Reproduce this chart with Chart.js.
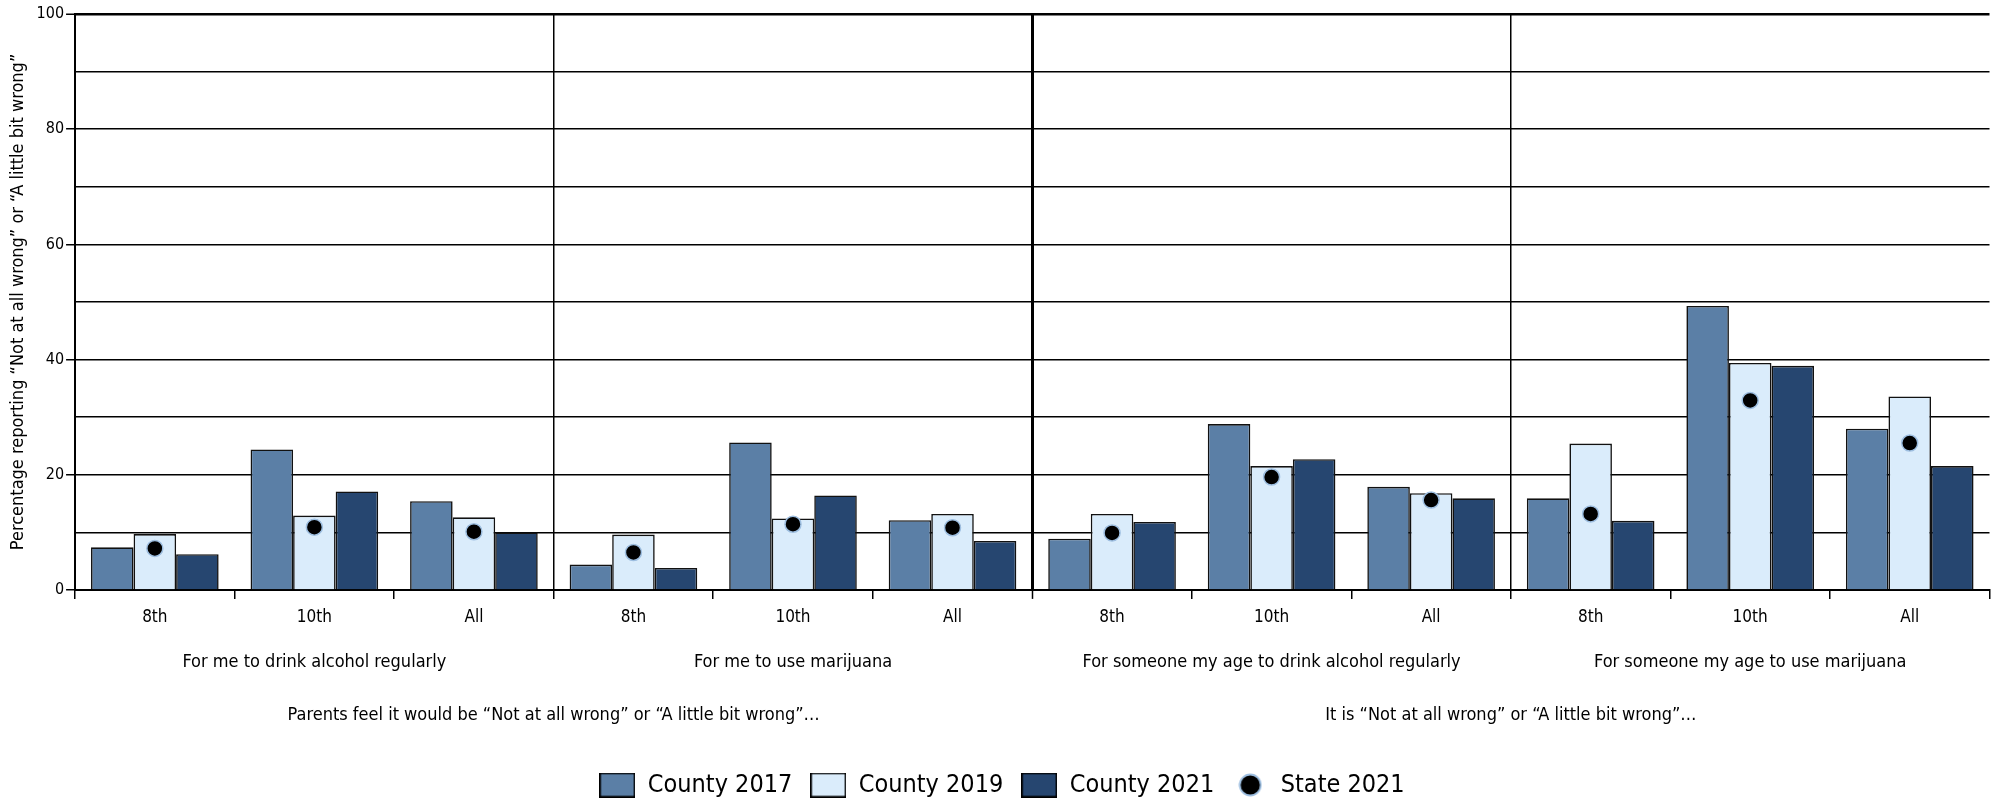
<!DOCTYPE html>
<html><head><meta charset="utf-8">
<script src="https://cdn.jsdelivr.net/npm/chart.js@4.4.1/dist/chart.umd.min.js"></script>
<style>html,body{margin:0;padding:0;background:#fff;}#wrap{width:1999px;height:804px;position:relative;}</style>
</head><body><div id="wrap"><canvas id="c"></canvas></div>
<script>
const gradeLabels = ['8th','10th','All','8th','10th','All','8th','10th','All','8th','10th','All'];
const topicLabels = ['For me to drink alcohol regularly','For me to use marijuana','For someone my age to drink alcohol regularly','For someone my age to use marijuana'];
const groupLabels = ['Parents feel it would be \u201CNot at all wrong\u201D or \u201CA little bit wrong\u201D\u2026','It is \u201CNot at all wrong\u201D or \u201CA little bit wrong\u201D\u2026'];
const seriesNames = ['County 2017','County 2019','County 2021','State 2021'];
const county2017 = [7.4,24.4,15.4, 4.4,25.6,12.1, 8.9,28.8,17.9, 15.9,49.3,28.0];
const county2019 = [9.7,12.9,12.6, 9.6,12.4,13.2, 13.2,21.5,16.8, 25.4,39.4,33.6];
const county2021 = [6.2,17.1,10.0, 3.8,16.4,8.5, 11.8,22.7,15.9, 12.0,38.9,21.5];
const state2021  = [7.2,10.9,10.1, 6.5,11.4,10.8, 9.9,19.6,15.6, 13.2,32.9,25.5];
const yTitle = 'Percentage reporting \u201CNot at all wrong\u201D or \u201CA little bit wrong\u201D';

const C17='#5B7FA6', C19='#DAECFB', C21='#264670', DOTRING='#9DBEE0';
Chart.defaults.font.family = "'Liberation Sans Narrow','DejaVu Sans Condensed','Roboto Condensed','Liberation Sans',sans-serif";
Chart.defaults.color = '#000';

function boxImg(fill){
  const c=document.createElement('canvas'); c.width=36; c.height=25;
  const g=c.getContext('2d'); g.fillStyle=fill; g.fillRect(1,1,34,23);
  g.strokeStyle='#000'; g.lineWidth=1.6; g.strokeRect(0.8,0.8,34.4,23.4); return c;
}
function dotImg(){
  const c=document.createElement('canvas'); c.width=24; c.height=24;
  const g=c.getContext('2d'); g.beginPath(); g.arc(12,12,10.5,0,Math.PI*2);
  g.fillStyle='#000'; g.fill(); g.lineWidth=1.8; g.strokeStyle=DOTRING; g.stroke(); return c;
}
const legendImgs=[boxImg(C17),boxImg(C19),boxImg(C21),dotImg()];

new Chart(document.getElementById('c'), {
  type:'bar',
  data:{
    labels: gradeLabels,
    datasets:[
      {label:seriesNames[0], data:county2017, backgroundColor:C17, borderColor:'#111', borderWidth:1.6, order:1, categoryPercentage:0.8, barPercentage:1.0},
      {label:seriesNames[1], data:county2019, backgroundColor:C19, borderColor:'#111', borderWidth:1.6, order:1, categoryPercentage:0.8, barPercentage:1.0},
      {label:seriesNames[2], data:county2021, backgroundColor:C21, borderColor:'#111', borderWidth:1.6, order:1, categoryPercentage:0.8, barPercentage:1.0},
      {label:seriesNames[3], data:state2021, type:'line', showLine:false, pointRadius:8, pointHoverRadius:8, pointBackgroundColor:'#000', pointBorderColor:DOTRING, pointBorderWidth:1.5, order:0}
    ]
  },
  options:{
    responsive:true, maintainAspectRatio:false, animation:false,
    layout:{padding:{top:14,right:3,bottom:-3.5,left:8}},
    plugins:{
      tooltip:{enabled:false},
      legend:{
        position:'bottom', weight:1000,
        title:{display:true, text:' ', font:{size:10}, padding:0},
        labels:{
          usePointStyle:true, pointStyleWidth:36, boxHeight:25, padding:18,
          font:{size:25},
          sort:(a,b)=>a.datasetIndex-b.datasetIndex,
          generateLabels:(chart)=>{
            const items=Chart.defaults.plugins.legend.labels.generateLabels(chart);
            items.forEach(it=>{it.pointStyle=legendImgs[it.datasetIndex];});
            return items;
          }
        }
      }
    },
    scales:{
      x:{
        type:'category', offset:true, weight:1,
        grid:{offset:true, drawTicks:true, tickLength:9, tickColor:'#000', tickWidth:1.5,
          color:(ctx)=> (ctx.index%3===0)?'#000':'rgba(0,0,0,0)',
          lineWidth:(ctx)=> ctx.index===6?3:1.5},
        border:{display:true, color:'#000', width:2},
        ticks:{font:{size:17}, padding:8, maxRotation:0, autoSkip:false}
      },
      x2:{
        type:'category', labels: topicLabels, position:'bottom', offset:true, weight:2,
        grid:{display:false, drawTicks:false}, border:{display:false},
        ticks:{font:{size:18}, padding:16, maxRotation:0, autoSkip:false}
      },
      x3:{
        type:'category', labels: groupLabels, position:'bottom', offset:true, weight:3,
        grid:{display:false, drawTicks:false}, border:{display:false},
        ticks:{font:{size:18}, padding:16, maxRotation:0, autoSkip:false}
      },
      y:{
        min:0, max:100,
        ticks:{stepSize:10, font:{size:16}, padding:2, callback:(v)=> (v%20===0)?String(v):''},
        grid:{color:'#000', lineWidth:(ctx)=> (ctx.tick && ctx.tick.value===100)?2.5:1.5,
          tickLength:9, tickWidth:1.5,
          tickColor:(ctx)=> (ctx.tick && ctx.tick.value%20===0)?'#000':'rgba(0,0,0,0)'},
        border:{display:true, color:'#000', width:2},
        title:{display:true, text:yTitle, font:{size:18}, padding:{top:0,bottom:5}}
      }
    }
  }
});
</script></body></html>
